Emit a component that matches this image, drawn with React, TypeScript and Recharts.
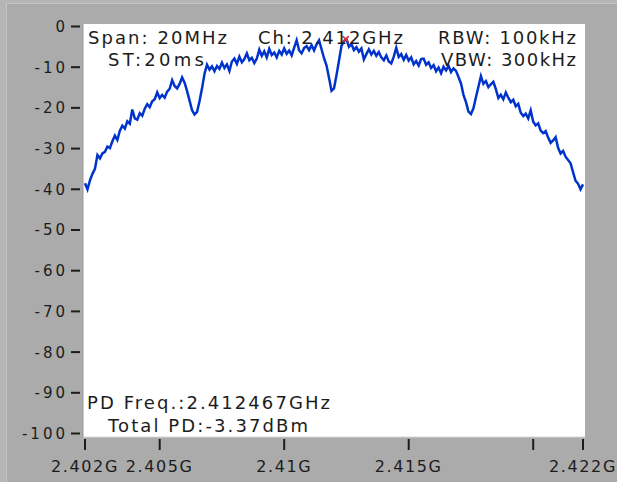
import { LineChart, Line, XAxis, YAxis, CartesianGrid, ReferenceDot } from "recharts";

// spectrum trace, one reading every 0.1 MHz from 2.402 GHz
const freqStartGHz = 2.402;
const freqStepGHz = 0.0001;
const levels = [
  -38.5, -40.0, -37.8, -36.2, -35.0, -31.6, -32.4, -31.2, -30.8, -29.5,
  -29.9, -28.2, -26.8, -27.9, -25.6, -24.4, -25.1, -23.3, -23.9, -20.4,
  -22.6, -22.9, -21.3, -21.9, -20.2, -19.1, -19.8, -18.4, -17.9, -16.2,
  -17.6, -16.8, -17.5, -16.0, -15.3, -13.2, -14.6, -15.2, -14.1, -12.5,
  -13.8, -15.9, -18.2, -20.6, -21.6, -21.0, -18.3, -15.2, -11.6, -9.4,
  -10.6, -9.8, -11.0, -9.7, -10.4, -8.9, -10.2, -9.3, -10.9, -8.6,
  -7.9, -9.2, -7.4, -8.8, -8.0, -6.6, -8.3, -7.7, -9.0, -7.9,
  -5.7, -7.2, -6.1, -7.6, -5.5, -7.0, -6.4, -7.6, -6.0, -6.9,
  -5.4, -6.7, -5.9, -7.1, -5.2, -3.4, -5.9, -6.6, -5.3, -4.8,
  -5.8, -4.6, -5.9, -4.4, -3.4, -5.6, -7.8, -9.6, -12.6, -15.8,
  -15.2, -12.0, -8.4, -4.8, -3.6, -3.1, -5.0, -4.3, -5.8, -5.1,
  -6.2, -5.4, -8.1, -6.8, -5.6, -6.9, -6.0, -7.2, -6.3, -7.6,
  -8.3, -7.1, -8.6, -9.1, -7.4, -5.2, -7.5, -6.8, -8.2, -7.0,
  -8.4, -7.6, -9.3, -8.5, -9.6, -8.0, -7.9, -9.4, -8.8, -10.2,
  -9.5, -11.0, -10.1, -11.5, -9.9, -10.8, -9.7, -11.2, -10.3, -10.9,
  -12.4, -14.0, -16.8, -18.6, -20.9, -21.5, -20.1, -17.4, -14.8, -12.2,
  -14.1, -13.4, -14.9, -14.2, -13.6, -15.4, -17.6, -16.8, -17.9, -16.2,
  -17.5, -18.6, -18.0, -19.6, -19.0, -21.2, -22.0, -21.4, -22.6, -20.6,
  -23.4, -24.3, -23.8, -25.6, -26.2, -25.7, -27.3, -28.6, -28.0, -27.2,
  -29.8, -31.2, -30.6, -32.0, -32.8, -33.6, -35.8, -37.9, -38.6, -40.0,
  -38.8,
];

const xTicks = [2.402, 2.405, 2.41, 2.415, 2.42, 2.422];
const xTickLabels = ["2.402G", "2.405G", "2.41G", "2.415G", "", "2.422G"];
const yTicks = [0, -10, -20, -30, -40, -50, -60, -70, -80, -90, -100];

const peakFreq = 2.412467;
const peakLevel = -3.1;

const data = levels.map((level, i) => ({
  freq: +(freqStartGHz + i * freqStepGHz).toFixed(4),
  level,
}));

const font = "'DejaVu Sans', Verdana, sans-serif";
const ink = "#1c1c1c";

function YTick({ x, y, payload }: any) {
  return (
    <g>
      <line x1={x - 12} x2={x - 3} y1={y} y2={y} stroke={ink} strokeWidth={2} />
      <text
        x={x - 15}
        y={y + 5.5}
        textAnchor="end"
        fontFamily={font}
        fontSize={15}
        letterSpacing={3}
        fill={ink}
      >
        {payload.value}
      </text>
    </g>
  );
}

function XTick({ x, y, payload }: any) {
  const idx = xTicks.indexOf(payload.value);
  return (
    <g>
      <line x1={x} x2={x} y1={y + 2} y2={y + 13} stroke={ink} strokeWidth={2} />
      <text
        x={x}
        y={y + 35}
        textAnchor="middle"
        fontFamily={font}
        fontSize={16}
        letterSpacing={1.6}
        fill={ink}
      >
        {idx >= 0 ? xTickLabels[idx] : ""}
      </text>
    </g>
  );
}

function Cross({ cx, cy }: any) {
  return (
    <g stroke="#e03030" strokeWidth={1.5}>
      <line x1={cx - 3} x2={cx + 3} y1={cy - 3} y2={cy + 3} />
      <line x1={cx - 3} x2={cx + 3} y1={cy + 3} y2={cy - 3} />
    </g>
  );
}

const labelStyle = { fontFamily: font, fontSize: 18, fill: ink };

export default function App() {
  return (
    <div
      style={{
        position: "absolute",
        left: 0,
        top: 0,
        width: 617,
        height: 482,
        background: "#b6b6b6",
      }}
    >
      <div
        style={{
          position: "absolute",
          left: 6,
          top: 3,
          width: 611,
          height: 479,
          background: "#ababab",
          borderTop: "1px solid #c4c4c4",
          borderLeft: "1px solid #c4c4c4",
          boxSizing: "border-box",
        }}
      />
      <div style={{ position: "absolute", left: 0, top: 0 }}>
        <LineChart
          width={617}
          height={482}
          data={data}
          margin={{ top: 24, right: 32, bottom: 0, left: 0 }}
        >
          <CartesianGrid fill="#ffffff" stroke="none" />
          <XAxis
            dataKey="freq"
            type="number"
            domain={[2.40192, 2.42208]}
            ticks={xTicks}
            interval={0}
            allowDataOverflow
            height={45}
            tickSize={0}
            tickMargin={0}
            tickLine={false}
            axisLine={{ stroke: "#d6d6d6" }}
            tick={<XTick />}
          />
          <YAxis
            type="number"
            domain={[-100.86, 0.61]}
            ticks={yTicks}
            interval={0}
            allowDataOverflow
            width={83}
            tickSize={0}
            tickMargin={0}
            tickLine={false}
            axisLine={{ stroke: "#999999" }}
            tick={<YTick />}
          />
          <Line
            type="linear"
            dataKey="level"
            stroke="#0033cc"
            strokeWidth={2.5}
            dot={false}
            isAnimationActive={false}
          />
          <ReferenceDot x={peakFreq} y={peakLevel} shape={<Cross />} />
        </LineChart>
      </div>
      <svg
        width={617}
        height={482}
        style={{ position: "absolute", left: 0, top: 0, pointerEvents: "none" }}
      >
        <text x={88} y={44} textLength={139} lengthAdjust="spacing" {...labelStyle}>
          Span: 20MHz
        </text>
        <text x={108} y={66} textLength={96} lengthAdjust="spacing" {...labelStyle}>
          ST:20ms
        </text>
        <text x={258} y={44} textLength={145} lengthAdjust="spacing" {...labelStyle}>
          Ch: 2.412GHz
        </text>
        <text x={438} y={44} textLength={138} lengthAdjust="spacing" {...labelStyle}>
          RBW: 100kHz
        </text>
        <text x={441} y={66} textLength={135} lengthAdjust="spacing" {...labelStyle}>
          VBW: 300kHz
        </text>
        <text x={87} y={409} textLength={243} lengthAdjust="spacing" {...labelStyle}>
          PD Freq.:2.412467GHz
        </text>
        <text x={108} y={432} textLength={200} lengthAdjust="spacing" {...labelStyle}>
          Total PD:-3.37dBm
        </text>
      </svg>
    </div>
  );
}
